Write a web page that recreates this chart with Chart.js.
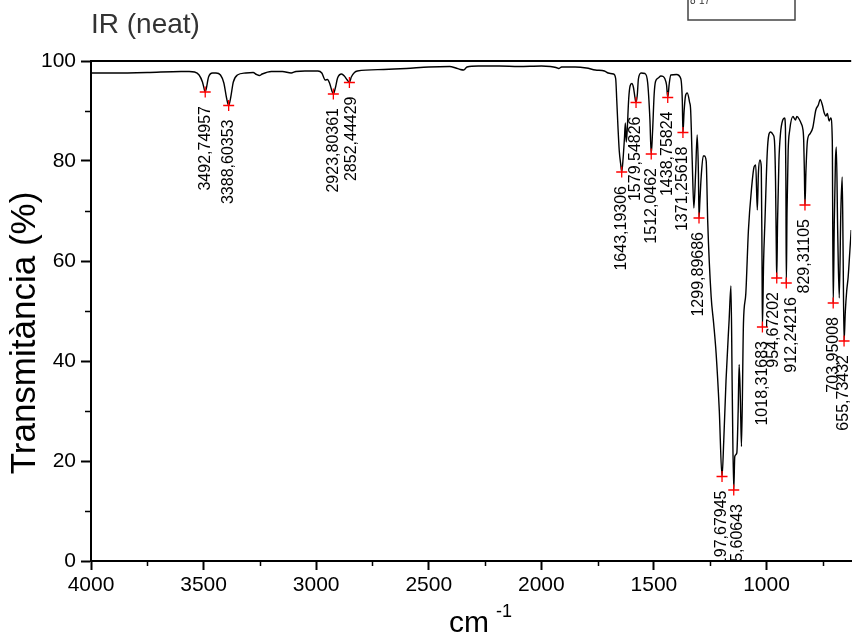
<!DOCTYPE html>
<html>
<head>
<meta charset="utf-8">
<script src="https://cdn.jsdelivr.net/npm/chart.js@4.4.1/dist/chart.umd.min.js"></script>
<style>
  html, body { margin: 0; padding: 0; background: #fff; }
  #wrap { position: relative; width: 858px; height: 641px; }
</style>
</head>
<body>
<div id="wrap"><canvas id="ir-spectrum" width="858" height="641"></canvas></div>
<script>
// spectrum trace (wavenumber in cm-1, transmittance in %)
var waveNumbers = [
  4000, 3900, 3750, 3600, 3564, 3540, 3520, 3505, 3495, 3492.75, 3488, 3478, 3460, 3445,
  3425, 3410, 3398, 3388.6, 3380, 3368, 3350, 3313, 3280, 3265, 3252, 3240, 3199, 3150,
  3111, 3090, 3050, 2992, 2975, 2960, 2950, 2940, 2930, 2923.8, 2915, 2905, 2887, 2875,
  2862, 2852.44, 2844, 2830, 2817, 2700, 2600, 2500, 2407, 2380, 2360, 2345, 2330, 2280,
  2187, 2100, 2000, 1960, 1935, 1923, 1910, 1850, 1800, 1760, 1720, 1703, 1693, 1680,
  1670, 1665, 1660, 1654, 1648, 1643.19, 1637, 1631, 1627, 1623, 1619, 1612, 1606, 1598,
  1591, 1584, 1579.55, 1574, 1569, 1557, 1540, 1528, 1518, 1512.05, 1506, 1499, 1493,
  1481, 1469, 1459, 1452, 1444, 1438.76, 1432, 1425, 1400, 1381, 1374, 1371.26, 1366,
  1360, 1352, 1342, 1337, 1330, 1322.7, 1315, 1308, 1302.5, 1299.9, 1296, 1290, 1281,
  1276, 1268, 1261, 1246, 1235, 1224, 1210, 1197.68, 1190, 1180, 1166, 1158, 1152.3,
  1145.61, 1141, 1132, 1126, 1121.6, 1116, 1111.3, 1102.5, 1092, 1080.5, 1066, 1055.5,
  1048, 1041, 1036, 1029, 1023.3, 1020, 1018.32, 1013, 1007, 997, 990, 982, 970, 965,
  960, 956.5, 954.67, 951, 945, 938, 928, 920, 916, 914, 912.24, 909, 904, 897, 882.5,
  872, 865, 853, 846, 840, 835, 832, 829.31, 825, 818, 806, 795, 781, 770, 762, 752,
  745, 736, 730, 722, 715, 708, 703.95, 699, 694, 690, 684, 677, 670, 664, 660, 655.73,
  650, 644, 637.5, 630, 624
];
var transmittance = [
  97.6, 97.6, 97.7, 97.9, 97.9, 97.8, 97.2, 95.8, 94.0, 93.8, 94.5, 96.8, 97.6, 97.6,
  97.2, 95.6, 92.6, 91.1, 92.6, 95.8, 97.2, 97.6, 97.7, 97.3, 97.1, 97.4, 97.9, 97.9,
  97.6, 97.9, 98.0, 98.0, 97.6, 96.2, 96.3, 95.5, 94.0, 93.4, 94.6, 96.6, 97.4, 97.0,
  96.2, 95.7, 96.8, 97.7, 98.0, 98.3, 98.5, 98.8, 98.9, 98.6, 98.3, 98.2, 98.8, 99.0,
  99.0, 98.9, 99.0, 98.9, 98.7, 98.5, 98.8, 98.8, 98.6, 98.2, 98.0, 97.6, 97.5, 97.4,
  96.5, 92.0, 87.0, 82.0, 79.5, 77.8, 80.5, 84.5, 87.6, 83.8, 86.0, 92.5, 95.0, 95.5,
  94.7, 92.6, 91.7, 93.2, 96.4, 97.6, 97.5, 95.7, 88.4, 81.4, 86.0, 93.4, 95.9,
  96.6, 97.0, 96.9, 96.5, 95.2, 92.7, 95.5, 97.2, 97.3, 96.5, 92.0, 85.7, 90.0,
  93.0, 93.6, 91.8, 90.2, 80.0, 70.6, 77.6, 85.2, 77.6, 68.6, 72.0, 77.0, 81.0,
  81.0, 80.0, 67.6, 52.9, 47.6, 41.6, 30.3, 16.9, 24.0, 36.0, 48.3, 55.0, 34.0,
  14.2, 20.9, 21.6, 30.0, 39.3, 32.0, 22.9, 47.5, 53.5, 66.1, 74.8, 78.8,
  79.2, 70.2, 77.7, 80.2, 78.8, 60.0, 46.8, 60.0, 68.0, 81.5, 85.2, 85.8, 85.2, 84.2,
  76.0, 62.0, 56.6, 68.0, 80.0, 85.5, 88.2, 88.6, 86.5, 76.0, 55.6, 70.0, 82.0, 86.2, 88.9,
  88.2, 88.9, 88.2, 87.5, 86.7, 84.2, 78.0, 71.2, 78.0, 84.2, 85.5, 86.6, 90.2, 91.2, 92.3, 91.2,
  89.8, 89.0, 89.5, 88.0, 88.6, 84.2, 51.6, 68.0, 80.0, 82.8, 66.0, 52.6, 70.0, 76.8, 62.0, 44.0,
  50.0, 54.0, 56.8, 62.0, 66.2
];

// picked peaks
var peakPositions = [
  3492.74957, 3388.60353, 2923.80361, 2852.44429, 1643.19306, 1579.54826, 1512.0462,
  1438.75824, 1371.25618, 1299.89686, 1197.67945, 1145.60643, 1018.31683, 954.67202,
  912.24216, 829.31105, 703.95008, 655.73432
];
var peakValues = [
  93.8, 91.1, 93.4, 95.7, 77.8, 91.7, 81.4,
  92.7, 85.7, 68.6, 16.9, 14.2, 46.8, 56.6,
  55.6, 71.2, 51.6, 44.0
];

var xTicks = [4000, 3500, 3000, 2500, 2000, 1500, 1000];
var xMinorTicks = [3750, 3250, 2750, 2250, 1750, 1250, 750];
var yTicks = [0, 20, 40, 60, 80, 100];
var yMinorTicks = [10, 30, 50, 70, 90];

var FONT = "'Liberation Sans', Arial, sans-serif";

var traceData = waveNumbers.map(function (w, i) { return { x: w, y: transmittance[i] }; });
var peakData = peakPositions.map(function (w, i) { return { x: w, y: peakValues[i] }; });

// small sideways nudges so neighbouring peak labels don't collide
var labelShift = { 2852.44429: 2, 954.67202: -3, 912.24216: 5, 1145.60643: 4 };

var extras = {
  id: 'extras',
  afterDraw: function (chart) {
    var ctx = chart.ctx, a = chart.chartArea;
    var x = chart.scales.x, y = chart.scales.y;
    ctx.save();

    // top frame line
    ctx.strokeStyle = '#000';
    ctx.lineWidth = 2;
    ctx.beginPath();
    ctx.moveTo(a.left - 1, a.top);
    ctx.lineTo(a.right, a.top);
    ctx.stroke();

    // minor ticks
    ctx.lineWidth = 1.5;
    ctx.beginPath();
    xMinorTicks.forEach(function (v) {
      var px = Math.round(x.getPixelForValue(v)) + 0.5;
      ctx.moveTo(px, a.bottom);
      ctx.lineTo(px, a.bottom + 5);
    });
    yMinorTicks.forEach(function (v) {
      var py = Math.round(y.getPixelForValue(v)) + 0.5;
      ctx.moveTo(a.left, py);
      ctx.lineTo(a.left - 6, py);
    });
    ctx.stroke();

    // peak labels, rotated and clipped to the plot
    ctx.save();
    ctx.beginPath();
    ctx.rect(a.left, a.top, a.right - a.left, a.bottom - a.top);
    ctx.clip();
    ctx.fillStyle = '#000';
    ctx.font = '16px ' + FONT;
    ctx.textAlign = 'right';
    ctx.textBaseline = 'middle';
    peakPositions.forEach(function (w, i) {
      var px = x.getPixelForValue(w) + (labelShift[w] || 0);
      var py = y.getPixelForValue(peakValues[i]) + 14;
      ctx.save();
      ctx.translate(px, py);
      ctx.rotate(-Math.PI / 2);
      ctx.fillText(String(w).replace('.', ','), 0, 0);
      ctx.restore();
    });
    ctx.restore();

    // heading
    ctx.fillStyle = '#333';
    ctx.font = '28px ' + FONT;
    ctx.textAlign = 'left';
    ctx.textBaseline = 'alphabetic';
    ctx.fillText('IR (neat)', 91, 33);

    // axis titles
    ctx.fillStyle = '#000';
    ctx.save();
    ctx.translate(35, 333);
    ctx.rotate(-Math.PI / 2);
    ctx.font = '35px ' + FONT;
    ctx.textAlign = 'center';
    ctx.fillText('Transmitància (%)', 0, 0);
    ctx.restore();

    ctx.font = '30px ' + FONT;
    ctx.textAlign = 'left';
    ctx.fillText('cm', 449, 632);
    ctx.font = '18px ' + FONT;
    ctx.fillText('-1', 496, 617);

    // formula box at the top edge
    ctx.strokeStyle = '#444';
    ctx.lineWidth = 1.5;
    ctx.strokeRect(688, -5, 107, 25);
    ctx.font = '10px ' + FONT;
    ctx.fillStyle = '#333';
    ctx.fillText('8', 690, 4);
    ctx.fillText('17', 699, 4);

    ctx.restore();
  }
};

new Chart(document.getElementById('ir-spectrum').getContext('2d'), {
  type: 'scatter',
  data: {
    datasets: [{
      label: 'IR',
      data: traceData,
      showLine: true,
      borderColor: '#000',
      borderWidth: 1.4,
      pointRadius: 0,
      cubicInterpolationMode: 'monotone',
      fill: false,
      order: 2
    }, {
      label: 'peaks',
      data: peakData,
      showLine: false,
      pointStyle: 'cross',
      pointRadius: 5.5,
      borderColor: '#ff0000',
      borderWidth: 1.3,
      order: 1
    }]
  },
  options: {
    responsive: false,
    animation: false,
    devicePixelRatio: 1,
    layout: { padding: { top: 61, right: 0, left: 0, bottom: 0 } },
    plugins: {
      legend: { display: false },
      tooltip: { enabled: false }
    },
    scales: {
      x: {
        type: 'linear',
        reverse: true,
        min: 624,
        max: 4000,
        afterBuildTicks: function (s) { s.ticks = xTicks.map(function (v) { return { value: v }; }); },
        afterFit: function (s) { s.height = 80; },
        grid: {
          drawOnChartArea: false,
          drawTicks: true,
          tickLength: 9,
          tickWidth: 2,
          tickColor: '#000'
        },
        border: { display: true, color: '#000', width: 2 },
        ticks: {
          color: '#000',
          padding: 3,
          maxRotation: 0,
          autoSkip: false,
          font: { size: 21, family: FONT },
          callback: function (v) { return String(v); }
        }
      },
      y: {
        min: 0,
        max: 100,
        afterBuildTicks: function (s) { s.ticks = yTicks.map(function (v) { return { value: v }; }); },
        afterFit: function (s) { s.width = 91; },
        grid: {
          drawOnChartArea: false,
          drawTicks: true,
          tickLength: 10,
          tickWidth: 2,
          tickColor: '#000'
        },
        border: { display: true, color: '#000', width: 2 },
        ticks: {
          color: '#000',
          padding: 5,
          font: { size: 21, family: FONT },
          callback: function (v) { return String(v); }
        }
      }
    }
  },
  plugins: [extras]
});
</script>
</body>
</html>
